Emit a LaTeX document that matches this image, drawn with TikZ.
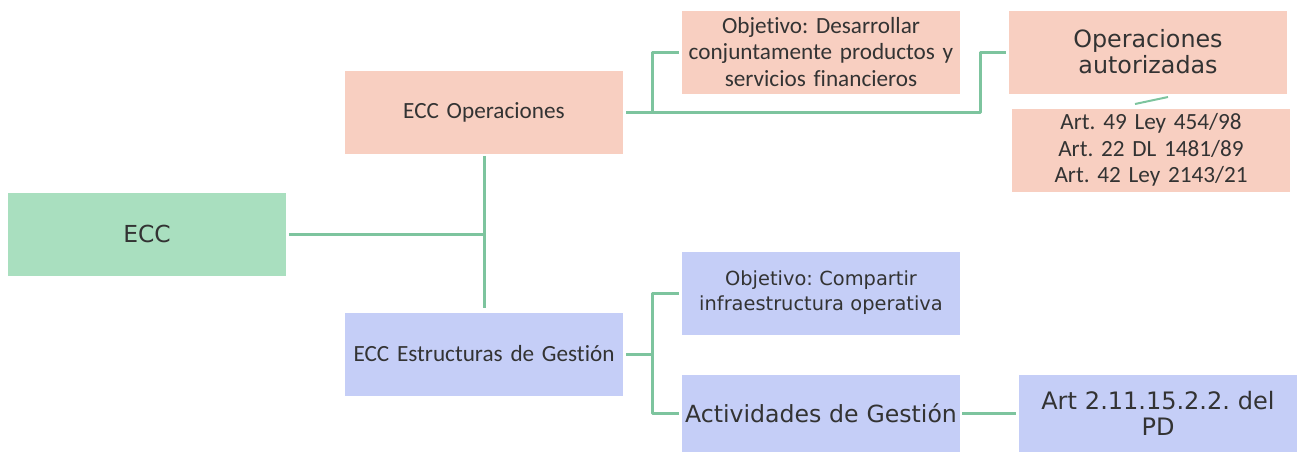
\documentclass[tikz,border=0pt]{standalone}
\usepackage{fontspec}
\setmainfont[Ligatures=NoCommon]{Carlito}
\newfontfamily\verd{DejaVu Sans}
\definecolor{verdecaja}{HTML}{A9DFBF}
\definecolor{salmon}{HTML}{F8CFC1}
\definecolor{azulcaja}{HTML}{C5CEF7}
\definecolor{verdelinea}{HTML}{7DC49E}
\definecolor{texto}{HTML}{333333}
\frenchspacing
\tikzset{
  caja/.style={rectangle, minimum width=139pt, minimum height=41.5pt, inner sep=0pt,
    align=center, text width=139pt, text=texto, font=\fontsize{11.6}{13.3}\selectfont},
  linea/.style={draw=verdelinea, line width=1.5pt}
}
\begin{document}
\begin{tikzpicture}[x=0.5pt, y=-0.5pt, line join=round]
	\useasboundingbox (0,0) rectangle (1301,451);
	% cajas principales
	\node[caja, fill=verdecaja, font=\verd\fontsize{11.7}{14}\selectfont] (ecc) at (147,234) {ECC};
	\node[caja, fill=salmon] (ope) at (484,112) {ECC Operaciones};
	\node[caja, fill=azulcaja] (est) at (484,354) {ECC Estructuras de Gestión};
	\node[caja, fill=salmon] (obj1) at (821,52) {Objetivo: Desarrollar\\conjuntamente productos y\\servicios financieros};
	\node[caja, fill=salmon, font=\verd\fontsize{11.9}{13}\selectfont] (aut) at (1148,52) {Operaciones\\autorizadas};
	\node[caja, fill=salmon] (art) at (1151,150) {Art. 49 Ley 454/98\\Art. 22 DL 1481/89\\Art. 42 Ley 2143/21};
	\node[caja, fill=azulcaja, font=\verd\fontsize{9.7}{12.5}\selectfont] (obj2) at (821,293) {Objetivo: Compartir\\infraestructura operativa};
	\node[caja, fill=azulcaja, minimum height=38.5pt, font=\verd\fontsize{11.8}{13}\selectfont] (act) at (821,413) {Actividades de Gestión};
	\node[caja, fill=azulcaja, minimum height=38.5pt, font=\verd\fontsize{12}{13}\selectfont] (pd) at (1158,413) {Art 2.11.15.2.2. del\\PD};
	% puntos de union
	\coordinate (u1) at (652,112);
	\coordinate (u2) at (980,112);
	\coordinate (u3) at (652,354);
	\coordinate (d1) at (1135,104);
	\coordinate (d2) at (1168,97);
	% conectores
	\draw[linea, shorten <=1.5pt] (ecc.east) -- (ecc.east -| ope.south);
	\draw[linea, shorten <=1pt, shorten >=2pt] (ope.south) -- (est.north);
	\draw[linea, shorten <=1.5pt] (ope.east) -- (u2) |- ([xshift=-1.5pt]aut.west);
	\draw[linea] (u1) |- ([xshift=-1.5pt]obj1.west);
	\draw[linea, shorten <=1.5pt] (est.east) -- (u3);
	\draw[linea] ([xshift=-1.5pt]obj2.west) -| (u3) |- ([xshift=-1.5pt]act.west);
	\draw[linea, shorten <=1pt, shorten >=1.5pt] (act.east) -- (pd.west);
	\draw[linea, line width=1pt] (d1) -- (d2);
\end{tikzpicture}
\end{document}
